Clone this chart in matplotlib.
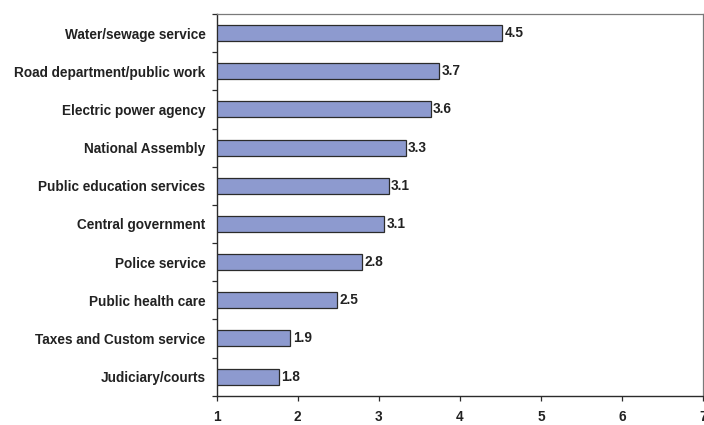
import numpy as np
import matplotlib
matplotlib.use("Agg")
import matplotlib.pyplot as plt
from matplotlib.ticker import FixedLocator, NullFormatter

plt.rcParams["font.family"] = ["Liberation Sans", "DejaVu Sans"]
plt.rcParams["font.weight"] = "bold"

categories = ["Water/sewage service", "Road department/public work",
              "Electric power agency", "National Assembly",
              "Public education services", "Central government",
              "Police service", "Public health care",
              "Taxes and Custom service", "Judiciary/courts"]
values = [4.52, 3.74, 3.64, 3.33, 3.12, 3.07, 2.79, 2.48, 1.91, 1.77]
value_labels = ["4.5", "3.7", "3.6", "3.3", "3.1", "3.1", "2.8", "2.5", "1.9", "1.8"]
x_ticks = [1, 2, 3, 4, 5, 6, 7]

BASE = 1.0
BAR_COLOR = "#8d9acf"
EDGE_COLOR = "#2b2b2b"
TEXT_COLOR = "#222222"
FS = 9.8

fig = plt.figure(figsize=(7.04, 4.25), dpi=100)
ax = fig.add_axes([0.3078, 0.069, 0.6908, 0.898])

n = len(categories)
y = np.arange(n)[::-1]
widths = [v - BASE for v in values]
ax.barh(y, widths, left=BASE, height=0.42, color=BAR_COLOR,
        edgecolor=EDGE_COLOR, linewidth=0.9, zorder=3)

for yi, v, lab in zip(y, values, value_labels):
    ax.text(v + 0.03, yi, lab, va="center", ha="left", fontsize=FS,
            fontweight="bold", color=TEXT_COLOR)

ax.set_xlim(1, 7)
ax.set_ylim(-0.5, n - 0.5)
ax.set_xticks(x_ticks)
ax.set_xticklabels([str(t) for t in x_ticks])
ax.set_yticks(y)
ax.set_yticklabels(categories)
ax.yaxis.set_minor_locator(FixedLocator(np.arange(-0.5, n, 1.0)))
ax.yaxis.set_minor_formatter(NullFormatter())

ax.tick_params(axis="y", which="major", length=0, pad=8, labelsize=FS,
               labelcolor=TEXT_COLOR)
ax.tick_params(axis="y", which="minor", length=3.5, width=0.9, color=EDGE_COLOR,
               direction="out")
ax.tick_params(axis="x", which="major", length=3.5, width=0.9, color=EDGE_COLOR,
               direction="out", pad=7, labelsize=FS, labelcolor=TEXT_COLOR)

for side in ["left", "bottom"]:
    ax.spines[side].set_color(EDGE_COLOR)
    ax.spines[side].set_linewidth(1.0)
for side in ["top", "right"]:
    ax.spines[side].set_color("#7a7a7a")
    ax.spines[side].set_linewidth(0.9)

fig.savefig("out.png", dpi=100)
